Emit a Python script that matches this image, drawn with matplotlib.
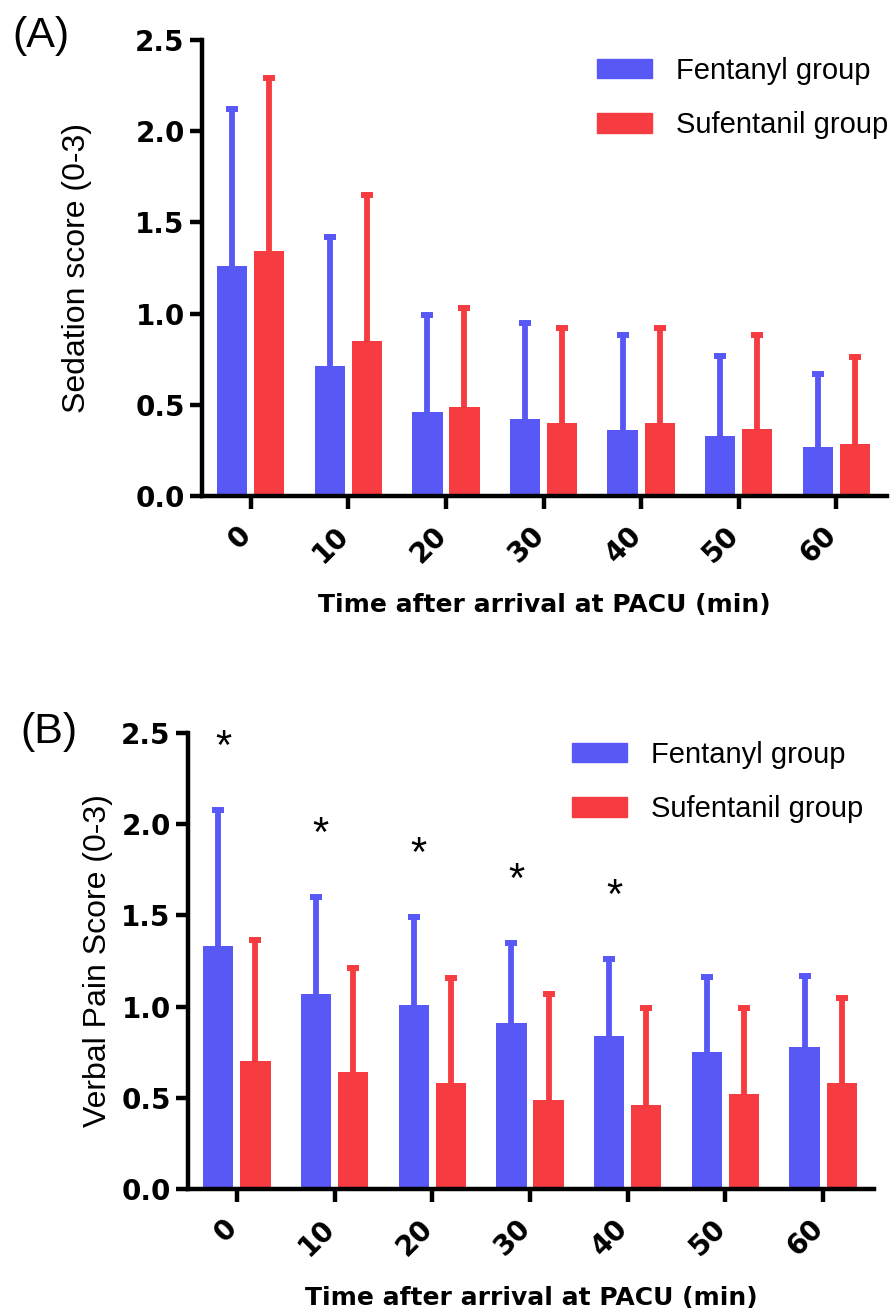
import numpy as np
import matplotlib
matplotlib.use("Agg")
import matplotlib.pyplot as plt
import matplotlib.transforms as mtransforms
from matplotlib.patches import Patch

# time points (min) after arrival at PACU
times = ["0", "10", "20", "30", "40", "50", "60"]
groups = ["Fentanyl group", "Sufentanil group"]

# (A) sedation score, mean and SD
sed_fent_mean = [1.26, 0.71, 0.46, 0.42, 0.36, 0.33, 0.27]
sed_fent_sd = [0.86, 0.71, 0.53, 0.53, 0.52, 0.44, 0.40]
sed_sufe_mean = [1.345, 0.85, 0.49, 0.40, 0.40, 0.37, 0.285]
sed_sufe_sd = [0.945, 0.80, 0.54, 0.52, 0.52, 0.51, 0.475]

# (B) verbal pain score, mean and SD
pain_fent_mean = [1.33, 1.07, 1.01, 0.91, 0.84, 0.75, 0.78]
pain_fent_sd = [0.75, 0.53, 0.48, 0.44, 0.42, 0.41, 0.39]
pain_sufe_mean = [0.70, 0.64, 0.58, 0.49, 0.46, 0.52, 0.58]
pain_sufe_sd = [0.665, 0.57, 0.575, 0.58, 0.53, 0.47, 0.465]
pain_signif = [True, True, True, True, True, False, False]

BLUE = "#5858F6"
RED = "#F63C40"
BOLD = "DejaVu Sans"
REG = "Liberation Sans"

W, H = 891, 1316
fig = plt.figure(figsize=(W / 100, H / 100), dpi=100)


def draw_panel(rect, fent_mean, fent_sd, sufe_mean, sufe_sd, ylabel,
               ylab_x, legend_xy, signif=None):
    ax = fig.add_axes(rect)
    x = np.arange(len(times))
    off, bw = 0.19, 0.31
    for dx, m, s, c in [(-off, fent_mean, fent_sd, BLUE),
                        (off, sufe_mean, sufe_sd, RED)]:
        ax.bar(x + dx, m, width=bw, color=c, zorder=2)
        eb = ax.errorbar(x + dx, m, yerr=[np.zeros(len(m)), s], fmt="none",
                         ecolor=c, elinewidth=4.2, capsize=4.6, capthick=4.3,
                         zorder=3)
        # SD shown upward only: hide the cap sitting on the bar top
        eb[1][0].set_visible(False)

    if signif is not None:
        tops = np.array(fent_mean) + np.array(fent_sd)
        for i, flag in enumerate(signif):
            if flag:
                ax.annotate("*", xy=(i - off + 0.05, tops[i] + 0.35),
                            xytext=(0, -13), textcoords="offset pixels",
                            ha="center", va="baseline", fontsize=30,
                            family=REG, annotation_clip=False)

    ax.set_xlim(-0.5, 6.52)
    ax.set_ylim(0, 2.5)
    ax.set_yticks([0, 0.5, 1.0, 1.5, 2.0, 2.5])
    ax.set_yticklabels(["0.0", "0.5", "1.0", "1.5", "2.0", "2.5"],
                       family=BOLD, fontweight="bold", fontsize=20)
    ax.set_xticks(x)
    ax.set_xticklabels(times, family=BOLD, fontweight="bold", fontsize=20,
                       rotation=45, ha="right", va="top")
    for side in ["top", "right"]:
        ax.spines[side].set_visible(False)
    for side in ["left", "bottom"]:
        ax.spines[side].set_linewidth(3.2)
    ax.tick_params(axis="y", length=8.5, width=3.2, pad=4)
    ax.tick_params(axis="x", length=9, width=3.2, pad=9)
    # nudge the slanted labels so their upper end sits at the tick
    shift = mtransforms.ScaledTranslation(0.06, 0, fig.dpi_scale_trans)
    for lab in ax.get_xticklabels():
        lab.set_transform(lab.get_transform() + shift)

    ax.set_ylabel(ylabel, family=REG, fontsize=23)
    ax.yaxis.set_label_coords(ylab_x, 0.5)
    ax.set_xlabel("Time after arrival at PACU (min)", family=BOLD,
                  fontweight="bold", fontsize=18)
    ax.xaxis.set_label_coords(0.5, -0.213)

    handles = [Patch(color=BLUE), Patch(color=RED)]
    ax.legend(handles, groups, loc="upper left", bbox_to_anchor=legend_xy,
              bbox_transform=fig.transFigure, frameon=False,
              prop={"family": REG, "size": 21}, borderpad=0,
              borderaxespad=0, handlelength=1.9, handleheight=0.65,
              handletextpad=0.82, labelspacing=0.9)
    return ax


draw_panel([202 / W, 1 - 496 / H, 685 / W, 456 / H],
           sed_fent_mean, sed_fent_sd, sed_sufe_mean, sed_sufe_sd,
           "Sedation score (0-3)", -0.160, (597 / W, 1 - 57 / H))

draw_panel([188 / W, 1 - 1189 / H, 686 / W, 456 / H],
           pain_fent_mean, pain_fent_sd, pain_sufe_mean, pain_sufe_sd,
           "Verbal Pain Score (0-3)", -0.110, (572 / W, 1 - 741 / H),
           signif=pain_signif)

fig.text(12 / W, 1 - 36 / H, "(A)", family=REG, fontsize=31,
         ha="left", va="center")
fig.text(20 / W, 1 - 732 / H, "(B)", family=REG, fontsize=31,
         ha="left", va="center")

fig.savefig("out.png", dpi=100)
